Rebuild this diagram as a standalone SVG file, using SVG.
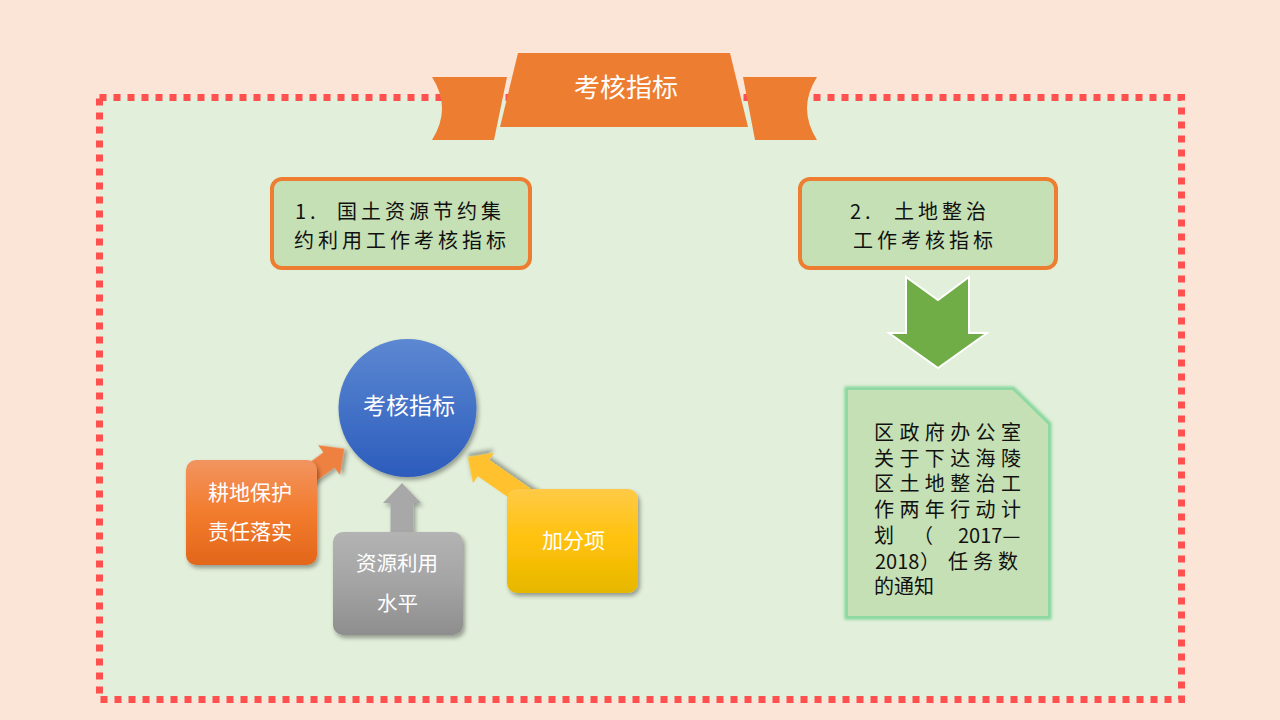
<svg xmlns="http://www.w3.org/2000/svg" width="1280" height="720" viewBox="0 0 1280 720">
<defs>
<style>
.cjk{font-family:"Noto Sans CJK SC","Liberation Sans",sans-serif;}
.blk{font-size:20px;fill:#111;letter-spacing:4px;}
.doc{font-size:20px;fill:#111;}
.wt{fill:#fff;text-anchor:middle;}
.hdr{fill:#C5E0B4;stroke:#ED7D31;stroke-width:4;}
</style>
<linearGradient id="gBlue" x1="0" y1="0" x2="0" y2="1"><stop offset="0" stop-color="#5C88D2"/><stop offset="1" stop-color="#2C5CBC"/></linearGradient>
<linearGradient id="gOrange" x1="0" y1="0" x2="0" y2="1"><stop offset="0" stop-color="#F29460"/><stop offset="0.5" stop-color="#F27C2E"/><stop offset="1" stop-color="#E3661A"/></linearGradient>
<linearGradient id="gGray" x1="0" y1="0" x2="0" y2="1"><stop offset="0" stop-color="#B3B3B3"/><stop offset="0.5" stop-color="#A4A4A4"/><stop offset="1" stop-color="#8E8E8E"/></linearGradient>
<linearGradient id="gYellow" x1="0" y1="0" x2="0" y2="1"><stop offset="0" stop-color="#FFCA47"/><stop offset="0.5" stop-color="#FFC20A"/><stop offset="1" stop-color="#E6B700"/></linearGradient>
<filter id="shadow" x="-20%" y="-20%" width="140%" height="140%"><feDropShadow dx="2" dy="3" stdDeviation="2" flood-color="#000" flood-opacity="0.35"/></filter>
<filter id="glow" x="-10%" y="-10%" width="120%" height="120%"><feGaussianBlur stdDeviation="1.5"/></filter>
</defs>
<rect width="1280" height="720" fill="#FBE5D6"/>
<g id="frame">
<rect x="99.5" y="97.5" width="1082" height="602" fill="#E2EFDA"/>
<rect x="99.5" y="97.5" width="1082" height="602" fill="none" stroke="#FF5050" stroke-width="7" stroke-dasharray="7 7"/>
</g>
<g id="ribbon">
<path d="M432,77 L507,77 L494,140 L432,140 Q452,108.5 432,77 Z" fill="#ED7D31"/>
<path d="M743,77 L817,77 Q797,108.5 817,140 L755,140 Z" fill="#ED7D31"/>
<path d="M518,53 L730,53 L748,127 L500,127 Z" fill="#ED7D31"/>
<text class="cjk" x="626" y="97" font-size="26" fill="#fff" text-anchor="middle">考核指标</text>
</g>
<g id="box1">
<rect class="hdr" x="272" y="179" width="258" height="89" rx="10"/>
<text class="cjk blk" x="295" y="219">1.</text>
<text class="cjk blk" x="337" y="219">国土资源节约集</text>
<text class="cjk blk" x="294" y="248">约利用工作考核指标</text>
</g>
<g id="box2">
<rect class="hdr" x="800" y="179" width="256" height="89" rx="10"/>
<text class="cjk blk" x="850" y="219">2.</text>
<text class="cjk blk" x="894" y="219">土地整治</text>
<text class="cjk blk" x="853" y="248">工作考核指标</text>
</g>
<g id="connectors">
<polygon points="906,277 938,300 969,277 969,333 987,333 938,368 889,333 906,333" fill="#70AD47" stroke="#fff" stroke-width="2"/>
<polygon transform="translate(329,460) rotate(-36.3)" points="-70,-9.5 0,-9.5 0,-18.5 19,0 0,18.5 0,9.5 -70,9.5" fill="#EE8041" filter="url(#shadow)"/>
<polygon points="390.5,545 390.5,503 383,503 402,483 421,503 413.5,503 413.5,545" fill="#A8A8A8" filter="url(#shadow)"/>
<polygon transform="translate(483.5,468) rotate(-145.2)" points="-70,-10 0,-10 0,-18.5 19,0 0,18.5 0,10 -70,10" fill="#FFC22D" filter="url(#shadow)"/>
</g>
<g id="circle">
<circle cx="407.5" cy="408" r="69" fill="url(#gBlue)" filter="url(#shadow)"/>
<text class="cjk wt" x="409" y="414" font-size="23">考核指标</text>
</g>
<g id="orangeBox">
<rect x="186" y="460" width="131" height="105" rx="10" fill="url(#gOrange)" filter="url(#shadow)"/>
<text class="cjk wt" x="250" y="500" font-size="21">耕地保护</text>
<text class="cjk wt" x="250" y="539" font-size="21">责任落实</text>
</g>
<g id="grayBox">
<rect x="333" y="532" width="130" height="103" rx="10" fill="url(#gGray)" filter="url(#shadow)"/>
<text class="cjk wt" x="397" y="571" font-size="20.5">资源利用</text>
<text class="cjk wt" x="397.5" y="611" font-size="20.5">水平</text>
</g>
<g id="yellowBox">
<rect x="507" y="489" width="131" height="104" rx="10" fill="url(#gYellow)" filter="url(#shadow)"/>
<text class="cjk wt" x="573.5" y="548" font-size="21">加分项</text>
</g>
<g id="doc">
<path d="M847,389 L1013,389 L1049,424 L1049,617 L847,617 Z" fill="none" stroke="#7FD597" stroke-width="5" filter="url(#glow)"/>
<path d="M847,389 L1013,389 L1049,424 L1049,617 L847,617 Z" fill="#C5E0B4" stroke="#8ED8A2" stroke-width="2"/>
<text class="cjk doc" x="874" y="440" letter-spacing="5.4">区政府办公室</text>
<text class="cjk doc" x="874" y="465.7" letter-spacing="5.4">关于下达海陵</text>
<text class="cjk doc" x="874" y="491.4" letter-spacing="5.4">区土地整治工</text>
<text class="cjk doc" x="874" y="517.1" letter-spacing="5.4">作两年行动计</text>
<text class="cjk doc" y="542.8"><tspan x="874">划</tspan><tspan x="913">（</tspan><tspan x="958">2017—</tspan></text>
<text class="cjk doc" y="568.5"><tspan x="875">2018</tspan><tspan x="920">）</tspan><tspan x="948">任</tspan><tspan x="973">务</tspan><tspan x="998">数</tspan></text>
<text class="cjk doc" x="874" y="594.2">的通知</text>
</g>
</svg>
